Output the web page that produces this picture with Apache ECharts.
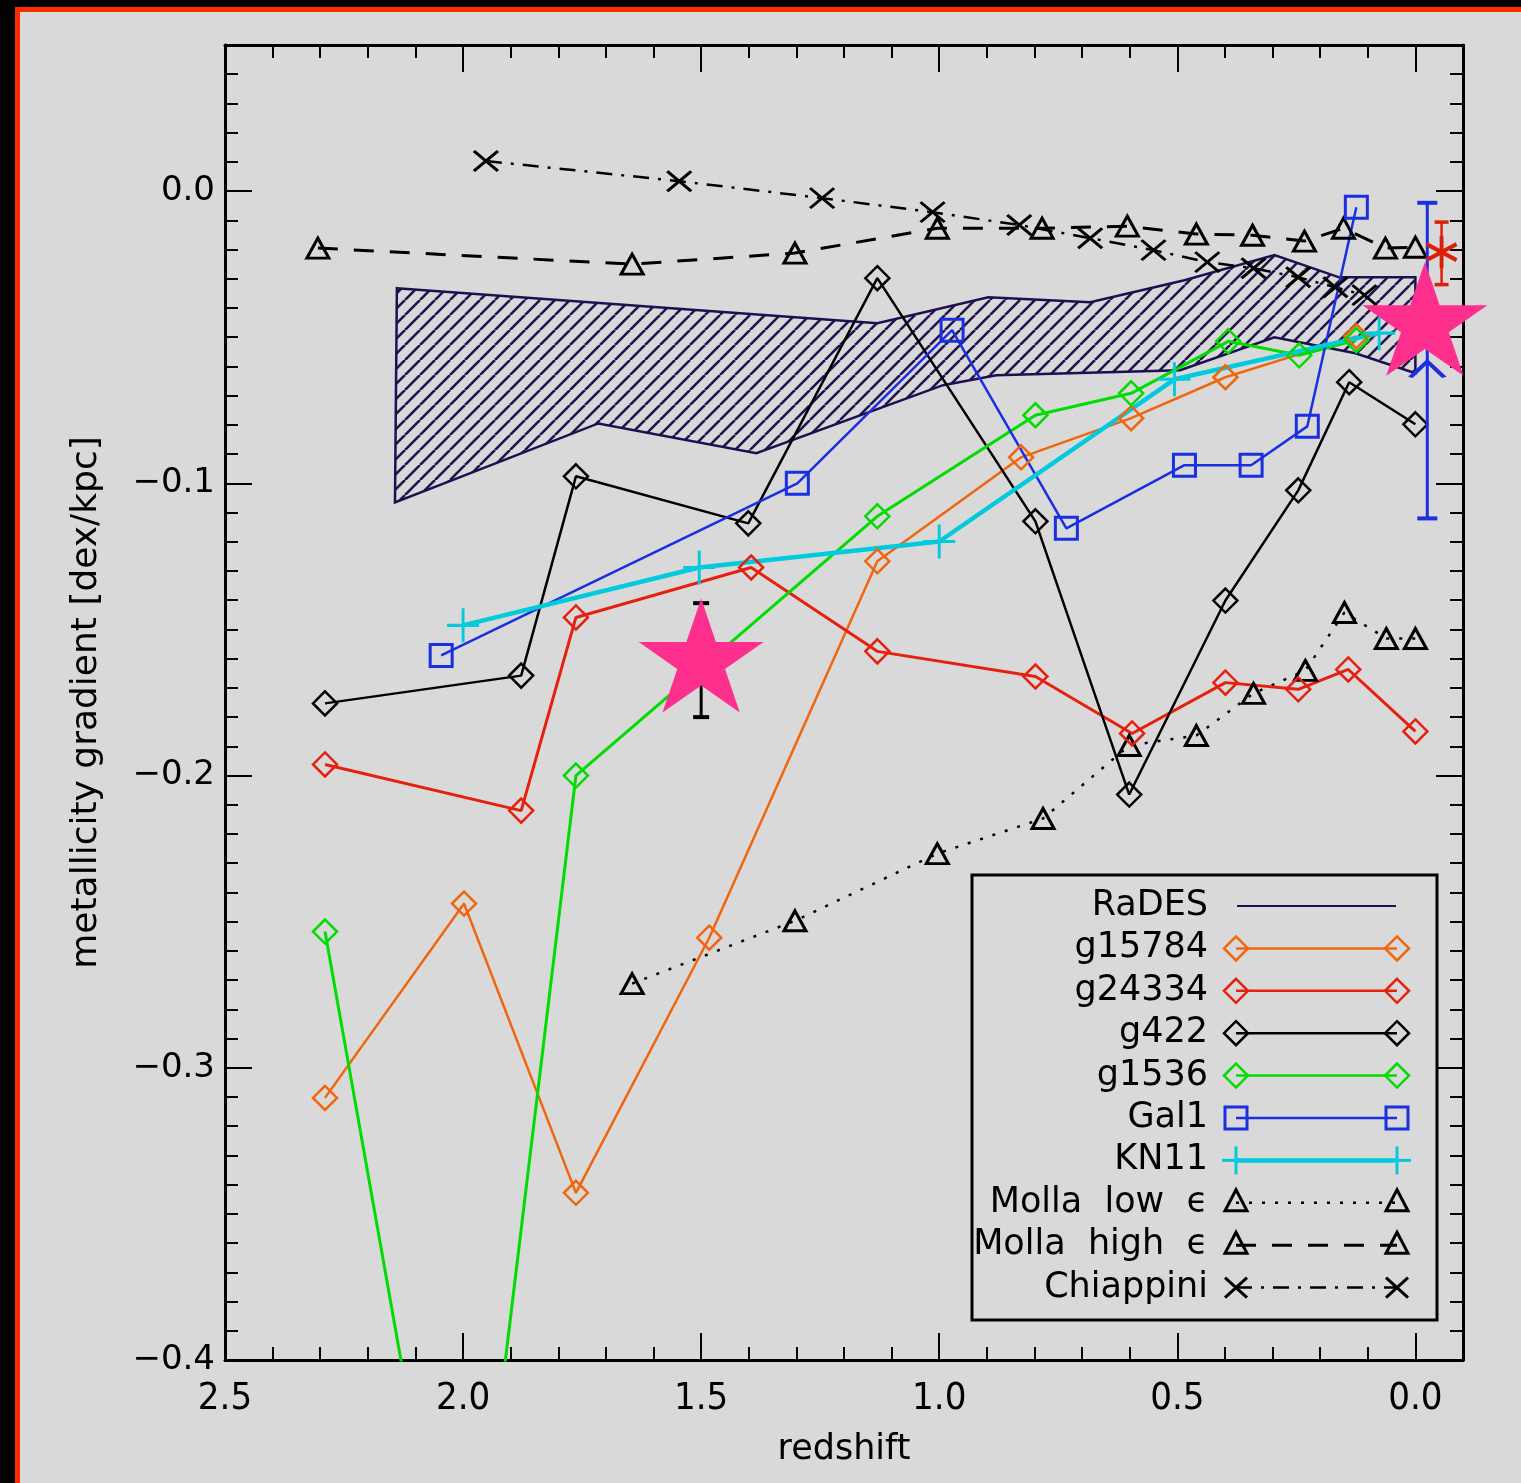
<!DOCTYPE html>
<html>
<head>
<meta charset="utf-8">
<script src="https://cdn.jsdelivr.net/npm/echarts@6/dist/echarts.min.js"></script>
<style>
html, body { margin: 0; padding: 0; background: #000; }
#frame { position: absolute; left: 15px; top: 7px; width: 1506px; height: 1476px; box-sizing: border-box;
  border-left: 5px solid #ff2a00; border-top: 5px solid #ff2a00; background: #d9d9d9; }
#main { position: absolute; left: 0; top: 0; width: 1521px; height: 1483px; }
</style>
</head>
<body>
<div id="frame"></div>
<div id="main"></div>
<script>
// RaDES band (upper and lower edge)
var radesZUp = [2.139, 1.130, 0.897, 0.683, 0.485, 0.296, 0.160, 0.0];
var radesUp = [-0.0332, -0.0452, -0.0363, -0.0380, -0.0305, -0.0219, -0.0295, -0.0295];
var radesZLow = [2.143, 1.716, 1.384, 0.992, 0.880, 0.494, 0.296, 0.126, 0.0];
var radesLow = [-0.1065, -0.0795, -0.0897, -0.0664, -0.0630, -0.0613, -0.0500, -0.0555, -0.0623];

var zG15784 = [2.290, 1.998, 1.763, 1.483, 1.130, 0.828, 0.597, 0.399, 0.124];
var gG15784 = [-0.3103, -0.2438, -0.3428, -0.2555, -0.1267, -0.0911, -0.0777, -0.0637, -0.0497];

var zG24334 = [2.290, 1.878, 1.763, 1.395, 1.130, 0.798, 0.595, 0.399, 0.246, 0.141, 0.0];
var gG24334 = [-0.1962, -0.2120, -0.1459, -0.1288, -0.1575, -0.1661, -0.1856, -0.1682, -0.1705, -0.1637, -0.1849];

var zG422 = [2.290, 1.878, 1.763, 1.401, 1.130, 0.798, 0.601, 0.399, 0.246, 0.139, 0.0];
var gG422 = [-0.1753, -0.1658, -0.0976, -0.1137, -0.0298, -0.1130, -0.2065, -0.1401, -0.1024, -0.0654, -0.0798];

var zG1536 = [2.290, 2.0, 1.763, 1.130, 0.798, 0.597, 0.393, 0.244, 0.124];
var gG1536 = [-0.2534, -0.52, -0.2000, -0.1113, -0.0767, -0.0692, -0.0514, -0.0562, -0.0510];

var zGal1 = [2.046, 1.298, 0.973, 0.733, 0.485, 0.345, 0.227, 0.124];
var gGal1 = [-0.1589, -0.1000, -0.0476, -0.1154, -0.0938, -0.0938, -0.0805, -0.0055];

var zKN11 = [2.0, 1.504, 1.0, 0.506, 0.076];
var gKN11 = [-0.1486, -0.1288, -0.1199, -0.0644, -0.0486];

var zMollaLow = [1.645, 1.303, 1.004, 0.782, 0.601, 0.460, 0.340, 0.231, 0.149, 0.061, 0.0];
var gMollaLow = [-0.2712, -0.2497, -0.2267, -0.2147, -0.1897, -0.1863, -0.1719, -0.1640, -0.1442, -0.1531, -0.1531];

var zMollaHigh = [2.305, 1.645, 1.303, 1.004, 0.784, 0.605, 0.460, 0.342, 0.233, 0.151, 0.063, 0.0];
var gMollaHigh = [-0.0195, -0.0250, -0.0212, -0.0127, -0.0127, -0.0120, -0.0147, -0.0151, -0.0171, -0.0127, -0.0195, -0.0192];

var zChiappini = [1.952, 1.546, 1.246, 1.014, 0.832, 0.683, 0.550, 0.437, 0.340, 0.246, 0.168, 0.107];
var gChiappini = [0.0103, 0.0034, -0.0024, -0.0072, -0.0116, -0.0161, -0.0202, -0.0243, -0.0264, -0.0295, -0.0329, -0.0356];

// observed points with error bars
var errZ = [1.5, -0.025, -0.055];
var errLow = [-0.180, -0.112, -0.032];
var errHigh = [-0.141, -0.004, -0.0106];
var arrowZ = [-0.025];
var arrowG = [-0.0610];
var asterZ = [-0.055];
var asterG = [-0.0209];
var starZ = [1.5, -0.02];
var starG = [-0.1589, -0.0437];

var legendNames = ['RaDES', 'g15784', 'g24334', 'g422', 'g1536', 'Gal1', 'KN11',
  'Molla  low  \u03f5', 'Molla  high  \u03f5', 'Chiappini'];

var C = {
  rades: '#1e1050', orange: '#f0660f', red: '#e6200f', black: '#000000',
  green: '#00dc00', blue: '#1a2fe0', cyan: '#00cbdc', pink: '#ff2f8e', aster: '#dd1f08'
};

var symPlus = 'path://M0,-10L0,10M-10,0L10,0';
var symCross = 'path://M-10,-9L10,9M-10,9L10,-9';
var symArrow = 'path://M-10,8L0,0L10,8';
var symAster = 'path://M0,-10L0,10M-8.7,-5L8.7,5M-8.7,5L8.7,-5';
var symStar = 'path://M0,-50L11.23,-15.45L47.55,-15.45L18.16,5.9L29.39,40.45L0,19.1L-29.39,40.45L-18.16,5.9L-47.55,-15.45L-11.23,-15.45Z';

function pairs(xs, ys) {
  return xs.map(function (x, i) { return [x, ys[i]]; });
}

function makeHatch() {
  var s = 15;
  var c = document.createElement('canvas');
  c.width = s; c.height = s;
  var ctx = c.getContext('2d');
  ctx.strokeStyle = '#22144c';
  ctx.lineWidth = 2.6;
  ctx.beginPath();
  for (var k = -1; k <= 1; k++) {
    ctx.moveTo(k * s, s);
    ctx.lineTo(k * s + s, 0);
  }
  ctx.stroke();
  return c;
}
var hatch = { image: makeHatch(), repeat: 'repeat' };

function lineSeries(name, zs, gs, color, symbol, size, lw, dash, symW) {
  return {
    name: name, type: 'line', xAxisIndex: 0, yAxisIndex: 0, z: 3,
    data: pairs(zs, gs),
    symbol: symbol, symbolSize: size, showAllSymbol: true,
    lineStyle: { color: color, width: lw, type: dash || 'solid' },
    itemStyle: { color: 'rgba(0,0,0,0)', borderColor: color, borderWidth: symW || 2.5 },
    emphasis: { disabled: true },
    silent: true
  };
}

var chart = echarts.init(document.getElementById('main'), null, { renderer: 'canvas' });

var lineC = { color: '#000', width: 3 };
var font = 'DejaVu Sans';

function xAx(pos, major) {
  var a = {
    type: 'value', min: -0.1, max: 2.5, inverse: true, position: pos,
    splitLine: { show: false },
    axisLine: { show: major, onZero: false, lineStyle: lineC },
    axisTick: { show: true, inside: true, length: major ? 27 : 13, lineStyle: { color: '#000', width: 2 } },
    axisLabel: { show: false }
  };
  if (major) { a.splitNumber = 5; } else { a.interval = 0.1; }
  return a;
}
function yAx(pos, major) {
  return {
    type: 'value', min: -0.4, max: 0.05, interval: major ? 0.1 : 0.01, position: pos,
    splitLine: { show: false },
    axisLine: { show: major, onZero: false, lineStyle: lineC },
    axisTick: { show: true, inside: true, length: major ? 27 : 13, lineStyle: { color: '#000', width: 2 } },
    axisLabel: { show: false }
  };
}

var xAxes = [xAx('bottom', true), xAx('bottom', false), xAx('top', true), xAx('top', false)];
xAxes[0].axisLabel = {
  show: true, showMinLabel: false, margin: 20, color: '#000',
  fontSize: 38, fontFamily: '"DejaVu Sans Condensed", "Liberation Sans Narrow", "DejaVu Sans"',
  formatter: function (v) { return Math.abs(v).toFixed(1); }
};
xAxes[0].name = 'redshift';
xAxes[0].nameLocation = 'middle';
xAxes[0].nameGap = 72;
xAxes[0].nameTextStyle = { fontSize: 35, fontFamily: font, color: '#000' };

var yAxes = [yAx('left', true), yAx('left', false), yAx('right', true), yAx('right', false)];
yAxes[0].axisLabel = {
  show: true, showMaxLabel: false, margin: 10, color: '#000', fontSize: 34, fontFamily: font,
  formatter: function (v) {
    if (Math.abs(v) < 1e-9) return '0.0';
    return (v < 0 ? '\u2212' : '') + Math.abs(v).toFixed(1);
  }
};
yAxes[0].name = 'metallicity gradient [dex/kpc]';
yAxes[0].nameLocation = 'middle';
yAxes[0].nameGap = 120;
yAxes[0].nameTextStyle = { fontSize: 36, fontFamily: font, color: '#000' };

// legend drawn as graphics
var legendStyles = [
  { c: C.rades, m: null, dash: null, lw: 2 },
  { c: C.orange, m: 'diamond', dash: null, lw: 2.5 },
  { c: C.red, m: 'diamond', dash: null, lw: 2.5 },
  { c: C.black, m: 'diamond', dash: null, lw: 2.5 },
  { c: C.green, m: 'diamond', dash: null, lw: 2.5 },
  { c: C.blue, m: 'square', dash: null, lw: 2.5 },
  { c: C.cyan, m: 'plus', dash: null, lw: 4.5 },
  { c: C.black, m: 'triangle', dash: [3, 10], lw: 2.5 },
  { c: C.black, m: 'triangle', dash: [20, 16], lw: 3 },
  { c: C.black, m: 'cross', dash: [16, 9, 3, 9], lw: 2.5 }
];

function marker(kind, x, y, c) {
  var st = { stroke: c, fill: 'none', lineWidth: 2.5 };
  if (kind === 'diamond') return { type: 'polygon', shape: { points: [[x, y - 12], [x + 12, y], [x, y + 12], [x - 12, y]] }, style: st };
  if (kind === 'square') return { type: 'rect', shape: { x: x - 11, y: y - 11, width: 22, height: 22 }, style: { stroke: c, fill: 'none', lineWidth: 3 } };
  if (kind === 'triangle') return { type: 'polygon', shape: { points: [[x, y - 13], [x + 11, y + 8], [x - 11, y + 8]] }, style: { stroke: c, fill: 'none', lineWidth: 3 } };
  if (kind === 'plus') return { type: 'group', children: [
    { type: 'line', shape: { x1: x, y1: y - 14, x2: x, y2: y + 14 }, style: { stroke: c, lineWidth: 3 } },
    { type: 'line', shape: { x1: x - 14, y1: y, x2: x + 14, y2: y }, style: { stroke: c, lineWidth: 3 } }] };
  if (kind === 'cross') return { type: 'group', children: [
    { type: 'line', shape: { x1: x - 11, y1: y - 10, x2: x + 11, y2: y + 10 }, style: { stroke: c, lineWidth: 3 } },
    { type: 'line', shape: { x1: x - 11, y1: y + 10, x2: x + 11, y2: y - 10 }, style: { stroke: c, lineWidth: 3 } }] };
  return null;
}

var legendEls = [{ type: 'rect', shape: { x: 972, y: 875, width: 465, height: 445 },
  style: { stroke: '#000', fill: 'none', lineWidth: 3 }, z: 20 }];
legendNames.forEach(function (nm, i) {
  var y = 906 + i * 42.4;
  var s = legendStyles[i];
  legendEls.push({ type: 'text', z: 20, x: 1208, y: y,
    style: { text: nm, fill: '#000', fontSize: 35, fontFamily: font, align: 'right', textAlign: 'right',
      verticalAlign: 'middle', textVerticalAlign: 'middle' } });
  var x1 = s.m ? 1236 : 1237, x2 = s.m ? 1397 : 1396;
  legendEls.push({ type: 'line', z: 20, shape: { x1: x1, y1: y, x2: x2, y2: y },
    style: { stroke: s.c, lineWidth: s.lw, lineDash: s.dash } });
  if (s.m) {
    var a = marker(s.m, x1, y, s.c), b = marker(s.m, x2, y, s.c);
    a.z = 20; b.z = 20;
    legendEls.push(a, b);
  }
});

var errColors = [C.black, C.blue, C.aster];
var errCap = [8, 10, 7];
var errWidth = [3, 3, 2.5];

var option = {
  backgroundColor: 'transparent',
  animation: false,
  grid: { left: 225, right: 58, top: 45, bottom: 123, outerBoundsMode: 'none', containLabel: false },
  xAxis: xAxes,
  yAxis: yAxes,
  graphic: { elements: legendEls },
  series: [
    {
      name: 'RaDES', type: 'custom', xAxisIndex: 0, yAxisIndex: 0, z: 1, silent: true,
      data: [[1.0, -0.05]],
      renderItem: function (params, api) {
        var pts = [];
        for (var i = 0; i < radesZUp.length; i++) pts.push(api.coord([radesZUp[i], radesUp[i]]));
        for (var j = radesZLow.length - 1; j >= 0; j--) pts.push(api.coord([radesZLow[j], radesLow[j]]));
        return { type: 'polygon', shape: { points: pts }, style: { fill: hatch, stroke: C.rades, lineWidth: 2.5 } };
      }
    },
    lineSeries('Molla low', zMollaLow, gMollaLow, C.black, 'triangle', [22, 20], 2.5, [3, 10], 3),
    lineSeries('Molla high', zMollaHigh, gMollaHigh, C.black, 'triangle', [22, 20], 3, [20, 16], 3),
    lineSeries('Chiappini', zChiappini, gChiappini, C.black, symCross, [24, 20], 2.5, [16, 9, 3, 9], 3),
    lineSeries('g15784', zG15784, gG15784, C.orange, 'diamond', [24, 24], 2.5),
    lineSeries('g24334', zG24334, gG24334, C.red, 'diamond', [24, 24], 3),
    lineSeries('g422', zG422, gG422, C.black, 'diamond', [24, 24], 2.5),
    lineSeries('g1536', zG1536, gG1536, C.green, 'diamond', [24, 24], 3),
    lineSeries('Gal1', zGal1, gGal1, C.blue, 'rect', [22, 22], 2.5, null, 3),
    lineSeries('KN11', zKN11, gKN11, C.cyan, symPlus, [32, 34], 4.5, null, 3),
    {
      name: 'obs', type: 'custom', xAxisIndex: 0, yAxisIndex: 0, z: 4, silent: true,
      data: errZ.map(function (z, i) { return [z, errLow[i], errHigh[i], i]; }),
      renderItem: function (params, api) {
        var i = api.value(3);
        var p1 = api.coord([api.value(0), api.value(1)]);
        var p2 = api.coord([api.value(0), api.value(2)]);
        var c = errColors[i], w = errCap[i], lw = errWidth[i];
        return { type: 'group', children: [
          { type: 'line', shape: { x1: p1[0], y1: p1[1], x2: p2[0], y2: p2[1] }, style: { stroke: c, lineWidth: lw } },
          { type: 'line', shape: { x1: p1[0] - w, y1: p1[1], x2: p1[0] + w, y2: p1[1] }, style: { stroke: c, lineWidth: lw + 1 } },
          { type: 'line', shape: { x1: p2[0] - w, y1: p2[1], x2: p2[0] + w, y2: p2[1] }, style: { stroke: c, lineWidth: lw + 1 } }
        ] };
      }
    },
    {
      name: 'arrow', type: 'scatter', z: 4, silent: true, clip: false,
      data: pairs(arrowZ, arrowG), symbol: symArrow, symbolSize: [34, 16],
      itemStyle: { color: 'rgba(0,0,0,0)', borderColor: C.blue, borderWidth: 3.5, opacity: 1 }
    },
    {
      name: 'aster', type: 'scatter', z: 4, silent: true, clip: false,
      data: pairs(asterZ, asterG), symbol: symAster, symbolSize: [30, 32],
      itemStyle: { color: 'rgba(0,0,0,0)', borderColor: C.aster, borderWidth: 4, opacity: 1 }
    },
    {
      name: 'stars', type: 'scatter', z: 10, silent: true, clip: false,
      data: pairs(starZ, starG), symbol: symStar, symbolSize: [125, 114],
      itemStyle: { color: C.pink, borderWidth: 0, opacity: 1 }
    }
  ]
};

chart.setOption(option);
</script>
</body>
</html>
